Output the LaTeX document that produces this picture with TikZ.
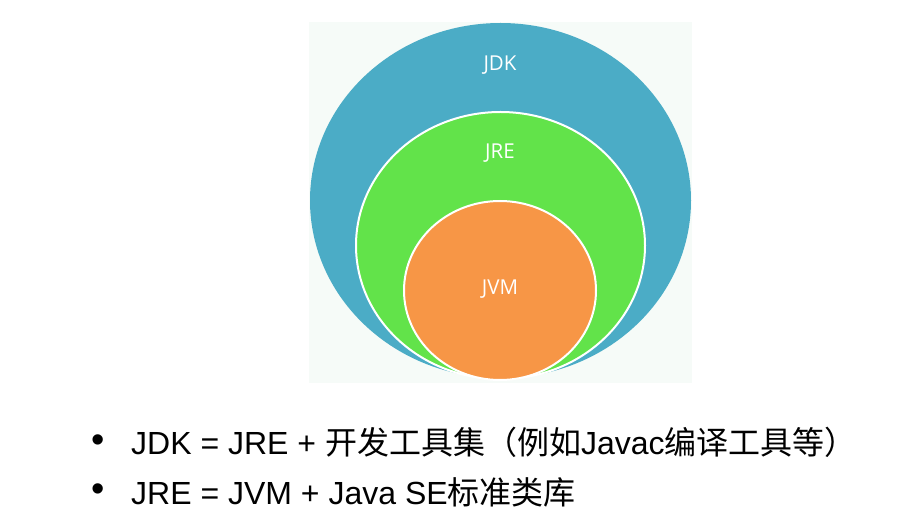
\documentclass[tikz,border=0pt]{standalone}
\usepackage{fontspec}
\setmainfont{Liberation Sans}
\newfontfamily\cjk{Noto Sans CJK SC}
\newfontfamily\lbl{Open Sans}
\usetikzlibrary{shapes.geometric}
\definecolor{jdkc}{HTML}{4BACC6}
\definecolor{jrec}{HTML}{62E34A}
\definecolor{jvmc}{HTML}{F79646}
\definecolor{bgc}{HTML}{F6FBF8}
\begin{document}
\begin{tikzpicture}[x=1pt,y=-1pt,
  ring/.style={ellipse, inner sep=0pt, draw=white, line width=2pt},
  lab/.style={text=white, font=\lbl\fontsize{20.5}{24}\selectfont, inner sep=0pt},
  textline/.style={anchor=base west, inner sep=0pt, font=\fontsize{32}{38}\selectfont},
  bul/.style={inner sep=0pt, font=\fontsize{38}{40}\selectfont}
]
\useasboundingbox (0,0) rectangle (898,529);
\fill[white] (0,0) rectangle (898,529);
\fill[bgc] (309,22) rectangle (692,383);
\node[ring, fill=jdkc, draw=none, minimum width=381pt, minimum height=355pt] (jdk) at (500.5,200.5) {};
\node[ring, fill=jrec, minimum width=289pt, minimum height=267pt] (jre) at (500.5,245.5) {};
\node[ring, fill=jvmc, minimum width=192pt, minimum height=179pt] (jvm) at (500,290.5) {};
\node[lab] (ljdk) at (500,65) {JDK};
\node[lab] (ljre) at (500,153) {JRE};
\node[lab] (ljvm) at (500,289) {JVM};
\node[bul] (b1) at (98,444) {•};
\node[bul] (b2) at (98,493) {•};
\node[textline] (t1) at (131,455) {JDK = JRE + {\cjk 开发工具集（例如}Javac{\cjk 编译工具等）}};
\node[textline] (t2) at (131,504) {JRE = JVM + Java SE{\cjk 标准类库}};
\end{tikzpicture}
\end{document}
